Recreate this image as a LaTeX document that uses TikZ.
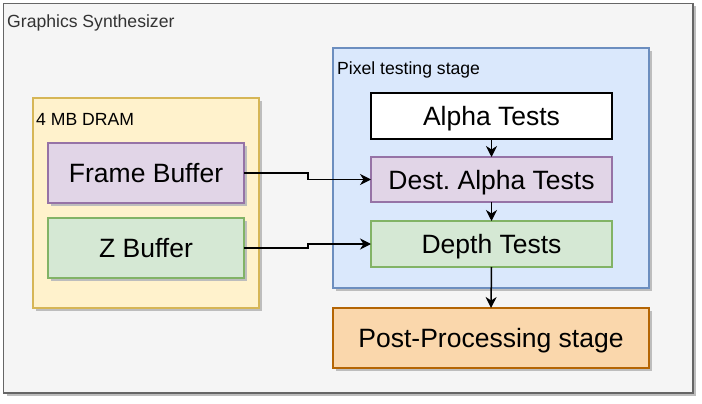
\documentclass[tikz,border=0pt]{standalone}
\usepackage{fontspec}
\setmainfont{Liberation Sans}
\usetikzlibrary{arrows.meta}
\frenchspacing
\definecolor{outerfill}{HTML}{F5F5F5}
\definecolor{outerline}{HTML}{666666}
\definecolor{outertext}{HTML}{333333}
\definecolor{yelfill}{HTML}{FFF2CC}
\definecolor{yelline}{HTML}{D6B656}
\definecolor{purfill}{HTML}{E1D5E7}
\definecolor{purline}{HTML}{9673A6}
\definecolor{grnfill}{HTML}{D5E8D4}
\definecolor{grnline}{HTML}{82B366}
\definecolor{blufill}{HTML}{DAE8FC}
\definecolor{bluline}{HTML}{6C8EBF}
\definecolor{orgfill}{HTML}{FAD7AC}
\definecolor{orgline}{HTML}{B46504}
\definecolor{shadowcol}{HTML}{BDBDBD}
\tikzset{
  box/.style={draw, line width=1.5pt, inner sep=0pt, outer sep=0pt},
  shadowed/.style={preaction={fill=shadowcol, draw=none, transform canvas={shift={(3pt,-3pt)}}}},
  big/.style={font=\fontsize{26.5}{30}\selectfont, text height=19pt, text depth=0pt},
  small/.style={font=\fontsize{17.6}{20}\selectfont},
  arr/.style={line width=1.5pt, -{Stealth[length=11pt,width=11pt,inset=3.5pt]}},
}
\begin{document}
\begin{tikzpicture}[x=1pt,y=-1pt]
\useasboundingbox (0,0) rectangle (702,404);
% outer
\draw[box, fill=outerfill, draw=outerline, shadowed] (3.5,3.5) rectangle (693,393);
\node[small, text=outertext, anchor=base west, inner sep=0pt] (gslabel) at (7,28) {Graphics Synthesizer};
% DRAM
\draw[box, fill=yelfill, draw=yelline, shadowed] (33,98) rectangle (259,308);
\node[small, anchor=base west, inner sep=0pt] (dramlabel) at (36,125) {4 MB DRAM};
\node[box, big, fill=purfill, draw=purline, shadowed, minimum width=196pt, minimum height=60pt] (fb) at (146,173) {Frame Buffer};
\node[box, big, fill=grnfill, draw=grnline, shadowed, minimum width=196pt, minimum height=60pt] (zb) at (146,248) {Z Buffer};
% Pixel testing stage
\draw[box, fill=blufill, draw=bluline, shadowed] (333,48) rectangle (649,288);
\node[small, anchor=base west, inner sep=0pt] (pixlabel) at (337,75) {Pixel testing stage};
\node[box, big, fill=white, draw=black, minimum width=241pt, minimum height=46pt] (alpha) at (491.5,116) {Alpha Tests};
\node[box, big, fill=purfill, draw=purline, minimum width=241pt, minimum height=45pt] (dest) at (491.5,179.5) {Dest. Alpha Tests};
\node[box, big, fill=grnfill, draw=grnline, minimum width=241pt, minimum height=46pt] (depth) at (491.5,244) {Depth Tests};
% Post
\node[box, big, fill=orgfill, draw=orgline, shadowed, minimum width=316pt, minimum height=60pt] (post) at (491,338) {Post-Processing stage};
% connectors
\draw[arr] (alpha.south) -- (dest.north);
\draw[arr] (dest.south) -- (depth.north);
\draw[arr] (depth.south) -- (post.north);
\coordinate (fbmid) at (308,173);
\coordinate (zbmid) at (308,248);
\draw[arr] (fb.east) -- (fbmid) |- (dest.west);
\draw[arr] (zb.east) -- (zbmid) |- (depth.west);
\end{tikzpicture}
\end{document}
